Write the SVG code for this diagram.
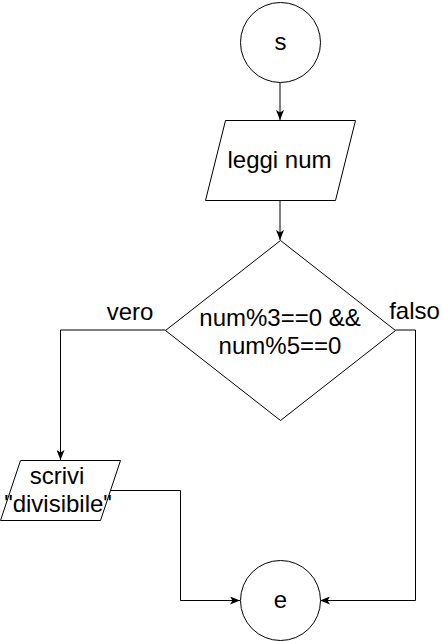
<svg xmlns="http://www.w3.org/2000/svg" width="442" height="641" viewBox="0 0 442 641">
<defs>
<marker id="arr" viewBox="0 0 10 8" refX="10" refY="4" markerWidth="10" markerHeight="8" markerUnits="userSpaceOnUse" orient="auto">
<path d="M0,0 L10,4 L0,8 L2.5,4 Z" fill="#000"/>
</marker>
</defs>
<style>
.shape{fill:#fff;stroke:#000;stroke-width:1}
.t{font-family:"Liberation Sans",Arial,sans-serif;font-size:24px;fill:#000;text-anchor:middle}
.edge{fill:none;stroke:#000;stroke-width:1;marker-end:url(#arr)}
</style>
<rect width="442" height="641" fill="#fff"/>
<g id="connectors">
<path class="edge" d="M280,82.5 L280,120"/>
<path class="edge" d="M280,200 L280,240"/>
<path class="edge" d="M165.5,330 L60.5,330 L60.5,460"/>
<path class="edge" d="M110,490.5 L180.5,490.5 L180.5,600.5 L240,600.5"/>
<path class="edge" d="M395.5,330 L415.5,330 L415.5,600.5 L320,600.5"/>
</g>
<g id="start">
<circle class="shape" cx="280.5" cy="42.5" r="40"/>
<text class="t" x="280.5" y="50">s</text>
</g>
<g id="input">
<polygon class="shape" points="225.5,120.5 355.5,120.5 335.5,200.5 205.5,200.5"/>
<text class="t" x="279.5" y="168">leggi num</text>
</g>
<g id="decision">
<polygon class="shape" points="280.5,240.5 395.5,330.5 280.5,420.5 165.5,330.5"/>
<text class="t" x="280" y="326">num%3==0 &amp;&amp;</text>
<text class="t" x="280" y="353.5">num%5==0</text>
</g>
<g id="labels">
<text class="t" x="130" y="320">vero</text>
<text class="t" x="414.5" y="319">falso</text>
</g>
<g id="output">
<polygon class="shape" points="20.5,460.5 120.5,460.5 100.5,520.5 0.5,520.5"/>
<text class="t" x="57" y="483.5">scrivi</text>
<text class="t" x="58" y="511.5">"divisibile"</text>
</g>
<g id="end">
<circle class="shape" cx="280.5" cy="600.5" r="40"/>
<text class="t" x="280.5" y="608">e</text>
</g>
</svg>
